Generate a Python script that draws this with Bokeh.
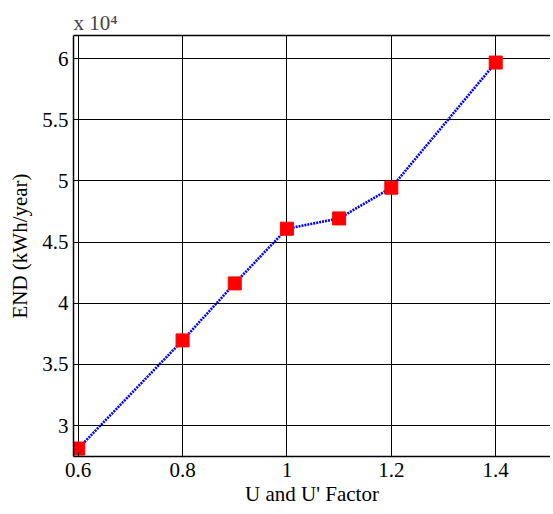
from bokeh.plotting import figure
from bokeh.models import FixedTicker, LinearAxis, Range1d
from bokeh.embed import file_html
from bokeh.resources import INLINE

# data
u_factor = [0.6, 0.8, 0.9, 1.0, 1.1, 1.2, 1.4]
end_kwh = [28120, 36960, 41620, 46090, 46930, 49440, 59670]
x_ticks = [0.6, 0.8, 1.0, 1.2, 1.4]
y_ticks = [30000, 35000, 40000, 45000, 50000, 55000, 60000]
y_tick_labels = ["3", "3.5", "4", "4.5", "5", "5.5", "6"]

FONT = "Liberation Serif"

p = figure(width=550, height=512, output_backend="svg", toolbar_location=None,
           x_range=Range1d(0.591, 1.505), y_range=Range1d(27470, 61880),
           min_border_left=73, min_border_right=0, min_border_top=35, min_border_bottom=56)
p.outline_line_color = None
p.background_fill_color = "white"
p.border_fill_color = "white"

p.title.text = "x 10\u2074"
p.title.text_font = FONT
p.title.text_font_size = "21px"
p.title.text_font_style = "normal"
p.title.align = "left"
p.title.offset = 0
p.title.standoff = 2

p.line(u_factor, end_kwh, line_color="blue", line_width=2.6, line_dash="2 1")
p.scatter(u_factor, end_kwh, marker="square", size=13, fill_color="red", line_color="red")

p.xaxis.ticker = FixedTicker(ticks=x_ticks)
p.xaxis.major_label_overrides = {0.6: "0.6", 0.8: "0.8", 1.0: "1", 1.2: "1.2", 1.4: "1.4"}
p.xaxis.axis_label = "U and U' Factor"
p.xaxis.major_label_standoff = 6
p.xaxis.axis_label_standoff = 2

p.yaxis.ticker = FixedTicker(ticks=y_ticks)
p.yaxis.major_label_overrides = dict(zip(y_ticks, y_tick_labels))
p.yaxis.axis_label = "END (kWh/year)"
p.yaxis.major_label_standoff = 5
p.yaxis.axis_label_standoff = 7

p.axis.major_tick_in = 4
p.axis.major_tick_out = 0
p.axis.minor_tick_in = 0
p.axis.minor_tick_out = 0
p.axis.axis_line_color = "black"
p.axis.axis_line_width = 1.5
p.axis.major_tick_line_color = "black"
p.axis.major_label_text_font = FONT
p.axis.major_label_text_font_size = "21px"
p.axis.major_label_text_font_style = "normal"
p.axis.major_label_text_color = "black"
p.axis.axis_label_text_font = FONT
p.axis.axis_label_text_font_size = "21px"
p.axis.axis_label_text_font_style = "normal"
p.axis.axis_label_text_color = "black"

top = LinearAxis(ticker=FixedTicker(ticks=x_ticks),
                 major_tick_in=4, major_tick_out=0, minor_tick_in=0, minor_tick_out=0,
                 axis_line_color="black", axis_line_width=1.5, major_label_standoff=0,
                 major_label_text_alpha=0, major_label_text_font_size="1px")
p.add_layout(top, "above")

p.xgrid.ticker = FixedTicker(ticks=x_ticks)
p.ygrid.ticker = FixedTicker(ticks=y_ticks)
for g in (p.xgrid[0], p.ygrid[0]):
    g.grid_line_color = "black"
    g.grid_line_width = 1
    g.grid_line_alpha = 1.0

open("out.html", "w").write(file_html(p, INLINE))
